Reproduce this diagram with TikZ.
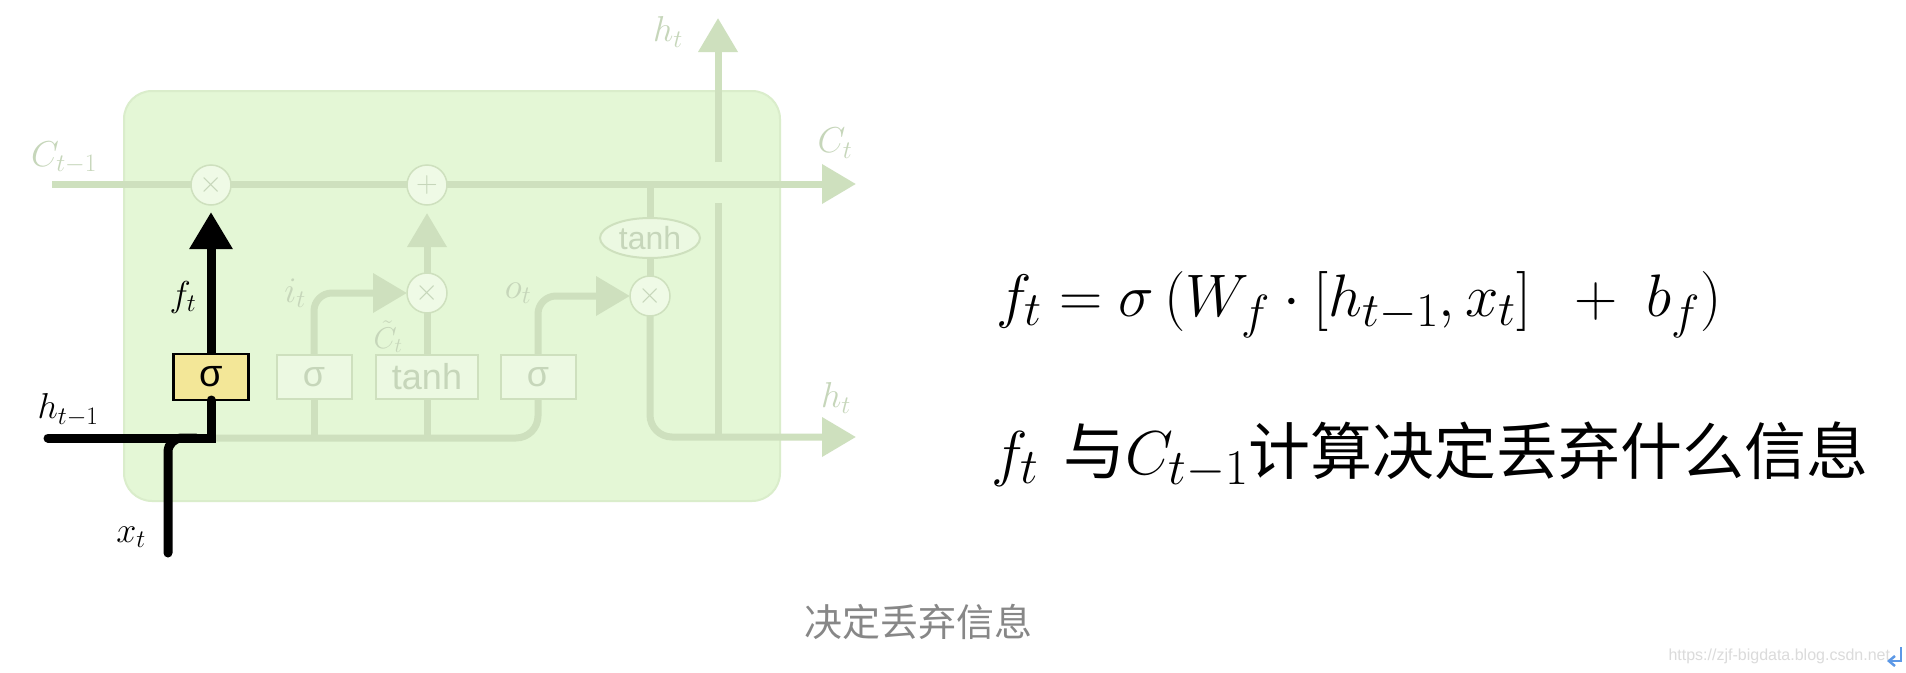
\RequirePackage{fix-cm}
\documentclass[tikz,border=0pt]{standalone}
\usepackage{fontspec}
\newfontfamily\cjk{Noto Sans CJK SC}
\newfontfamily\arialf{Liberation Sans}
\usetikzlibrary{positioning,arrows.meta,shapes.geometric,backgrounds}
\definecolor{cellgreen}{RGB}{228,247,214}
\definecolor{fadegreen}{RGB}{206,224,190}
\definecolor{fadetext}{RGB}{198,214,186}
\definecolor{gateyellow}{RGB}{243,231,152}
\definecolor{capgray}{RGB}{135,135,135}
\definecolor{markblue}{RGB}{92,152,230}
\DeclareMathSizes{60}{60}{48}{36}
\DeclareMathSizes{62}{62}{50}{38}

\begin{document}
\begin{tikzpicture}
[x=1pt,y=-1pt,
 every node/.style={inner sep=0pt,outer sep=0pt},
 faint/.style={draw=fadegreen,line width=7pt},
 blk/.style={draw=black,line width=9pt,line cap=round},
 ftip/.style={-{Triangle[length=34pt,width=38pt]}},
 btip/.style={-{Triangle[length=37pt,width=41pt]}},
 opc/.style={circle,draw=fadegreen,line width=1.5pt,fill=cellgreen!60!white,minimum size=40pt,text=fadetext,font=\fontsize{30}{30}\selectfont},
 gbox/.style={rectangle,draw=fadegreen,line width=2pt,fill=cellgreen!70!white,minimum height=44pt,text=fadetext,font=\arialf\fontsize{36}{36}\selectfont},
 ybox/.style={rectangle,draw=black,line width=2.5pt,fill=gateyellow,minimum width=75pt,minimum height=46pt,font=\arialf\fontsize{38}{38}\selectfont},
 flbl/.style={text=fadetext,font=\fontsize{36}{40}\selectfont},
 blbl/.style={text=black,font=\fontsize{36}{40}\selectfont}]
\useasboundingbox (0,0) rectangle (1906,672);

% gates of the cell
\node[ybox] (fsig) at (211,377) {σ};
\node[gbox,minimum width=75pt]  (isig)  [on grid,right=103pt of fsig] {σ};
\node[gbox,minimum width=102pt] (gtanh) [on grid,right=113pt of isig] {tanh};
\node[gbox,minimum width=75pt]  (osig)  [on grid,right=111pt of gtanh] {σ};
\node[opc] (fmul) [on grid,above=192pt of fsig]  {$\times$};
\node[opc] (imul) [on grid,above=84pt of gtanh]  {$\times$};
\node[opc] (cadd) [on grid,above=108pt of imul]  {$+$};
\node[opc] (omul) at (650,296) {$\times$};
\node[ellipse,draw=fadegreen,line width=2pt,fill=cellgreen!70!white,minimum width=100pt,minimum height=40pt,
      text=fadetext,font=\arialf\fontsize{32}{32}\selectfont] (ctanh) at (650,238) {tanh};

\coordinate (cin)   at (52,184);
\coordinate (cout)  at (856,184);
\coordinate (hbus)  at (212,438);
\coordinate (hin)   at (48,438);
\coordinate (xin)   at (168,553);
\coordinate (xjoin) at (196,438);
\coordinate (hout)  at (856,437);
\coordinate (hup)   at (718,437);
\coordinate (hgapA) at (718,203);
\coordinate (hgapB) at (718,162);
\coordinate (htop)  at (718,18);

\begin{scope}[on background layer]
\fill[white] (0,0) rectangle (1906,672);
\draw[fill=cellgreen,draw=fadegreen!45!cellgreen,line width=2pt,rounded corners=28pt] (124,91) rectangle (780,501);
\draw[faint,ftip] (cin) -- (cout);
\draw[faint,rounded corners=22pt] (hbus) -| (osig.south);
\draw[faint] (isig.south) -- (isig.south |- hbus);
\draw[faint] (gtanh.south) -- (gtanh.south |- hbus);
\draw[faint,ftip,rounded corners=18pt] (isig.north) |- (imul.west);
\draw[faint,ftip,rounded corners=18pt] (osig.north) |- (omul.west);
\draw[faint] (gtanh.north) -- (imul.south);
\draw[faint,ftip,shorten >=8pt] (imul.north) -- (cadd.south);
\draw[faint] (ctanh.north |- cin) -- (ctanh.north);
\draw[faint] (ctanh.south) -- (omul.north);
\draw[faint,ftip,rounded corners=22pt] (omul.south) |- (hout);
\draw[faint] (hup) -- (hgapA);
\draw[faint,ftip] (hgapB) -- (htop);
\end{scope}

% forget gate path
\draw[blk] (hin) -| (fsig.south);
\draw[blk,rounded corners=14pt] (xin) |- (xjoin);
\draw[blk,line cap=butt,btip,shorten >=7pt] (fsig.north) -- (fmul.south);

\node[flbl] (lcprev) at (64,158)  {$C_{t-1}$};
\node[flbl] (lcnext) at (835,143) {$C_t$};
\node[flbl] (lhtop)  at (668,32)  {$h_t$};
\node[flbl] (lhout)  at (836,398) {$h_t$};
\node[flbl] (lit)    at (295,293) {$i_t$};
\node[flbl] (lot)    at (518,293) {$o_t$};
\node[flbl,font=\fontsize{30}{34}\selectfont] (lct) at (388,337) {$\tilde{C}_t$};
\node[blbl] (lft)    at (183,297) {$f_t$};
\node[blbl] (lhprev) at (68,410)  {$h_{t-1}$};
\node[blbl] (lxt)    at (131,537) {$x_t$};

% explanation on the right
\node[anchor=base west,font=\fontsize{60}{70}\selectfont] (formula) at (996,316)
  {$f_t = \sigma\,(W_f\cdot[h_{t-1},x_t]\hspace{30pt}+\hspace{16pt}b_f)$};
\node[anchor=base west,font=\fontsize{62}{72}\selectfont] (remark) at (991,474)
  {$f_t$\hspace{24pt}{\cjk 与}$C_{t-1}${\cjk 计算决定丢弃什么信息}};
\node[text=capgray,font=\cjk\fontsize{38}{40}\selectfont] (caption) at (918,622) {决定丢弃信息};
\node[anchor=east,text=black!14,font=\arialf\fontsize{16}{16}\selectfont] (wmark) at (1890,656)
  {https://zjf-bigdata.blog.csdn.net};

% return mark in the corner
\coordinate (rtop)  at (1901,647);
\coordinate (rbend) at (1901,661);
\coordinate (rend)  at (1887,661);
\draw[markblue,line width=2.5pt,-{Straight Barb[length=6pt,width=10pt]}] (rtop) -- (rbend) -- (rend);
\end{tikzpicture}
\end{document}
